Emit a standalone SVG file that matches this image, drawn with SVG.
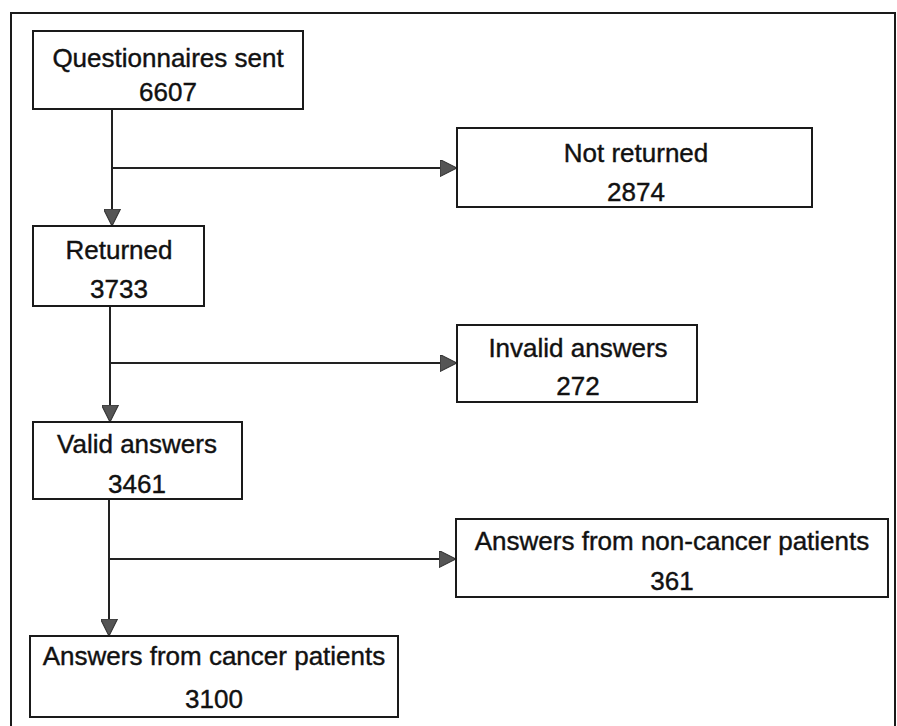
<svg xmlns="http://www.w3.org/2000/svg" width="897" height="726" viewBox="0 0 897 726">
<defs>
<style>
.box{fill:#fff;stroke:#1a1a1a;stroke-width:2}
.t{font-family:"Liberation Sans",Arial,sans-serif;font-size:26px;fill:#111;stroke:#111;stroke-width:0.4;text-anchor:middle}
.c{fill:none;stroke:#222;stroke-width:2}
</style>
<marker id="ah" viewBox="0 0 16 16" refX="16" refY="8" markerWidth="17" markerHeight="17" markerUnits="userSpaceOnUse" orient="auto">
<path d="M0,0 L16,8 L0,16 Z" fill="#555" stroke="#333" stroke-width="1"/>
</marker>
</defs>
<rect x="0" y="0" width="897" height="726" fill="#fff"/>
<path d="M11,726 V13 H895 V726" fill="none" stroke="#1a1a1a" stroke-width="2"/>
<g id="connectors">
<path class="c" d="M112,109 V226" marker-end="url(#ah)"/>
<path class="c" d="M112,168 H457" marker-end="url(#ah)"/>
<path class="c" d="M110,306 V422" marker-end="url(#ah)"/>
<path class="c" d="M110,363 H457" marker-end="url(#ah)"/>
<path class="c" d="M109,499 V636" marker-end="url(#ah)"/>
<path class="c" d="M109,559 H456" marker-end="url(#ah)"/>
</g>
<g id="sent"><rect class="box" x="33" y="31" width="270" height="78"/><text class="t" x="168" y="67">Questionnaires sent</text><text class="t" x="168" y="101">6607</text></g>
<g id="notreturned"><rect class="box" x="457" y="128" width="355" height="79"/><text class="t" x="636" y="162">Not returned</text><text class="t" x="636" y="201">2874</text></g>
<g id="returned"><rect class="box" x="33" y="226" width="171" height="80"/><text class="t" x="119" y="259">Returned</text><text class="t" x="119" y="298">3733</text></g>
<g id="invalid"><rect class="box" x="457" y="325" width="240" height="77"/><text class="t" x="578" y="357">Invalid answers</text><text class="t" x="578" y="395">272</text></g>
<g id="valid"><rect class="box" x="33" y="422" width="209" height="77"/><text class="t" x="137" y="453">Valid answers</text><text class="t" x="137" y="493">3461</text></g>
<g id="noncancer"><rect class="box" x="456" y="519" width="432" height="78"/><text class="t" x="672" y="550">Answers from non-cancer patients</text><text class="t" x="672" y="590">361</text></g>
<g id="cancer"><rect class="box" x="30" y="636" width="368" height="81"/><text class="t" x="214" y="665">Answers from cancer patients</text><text class="t" x="214" y="708">3100</text></g>
</svg>
